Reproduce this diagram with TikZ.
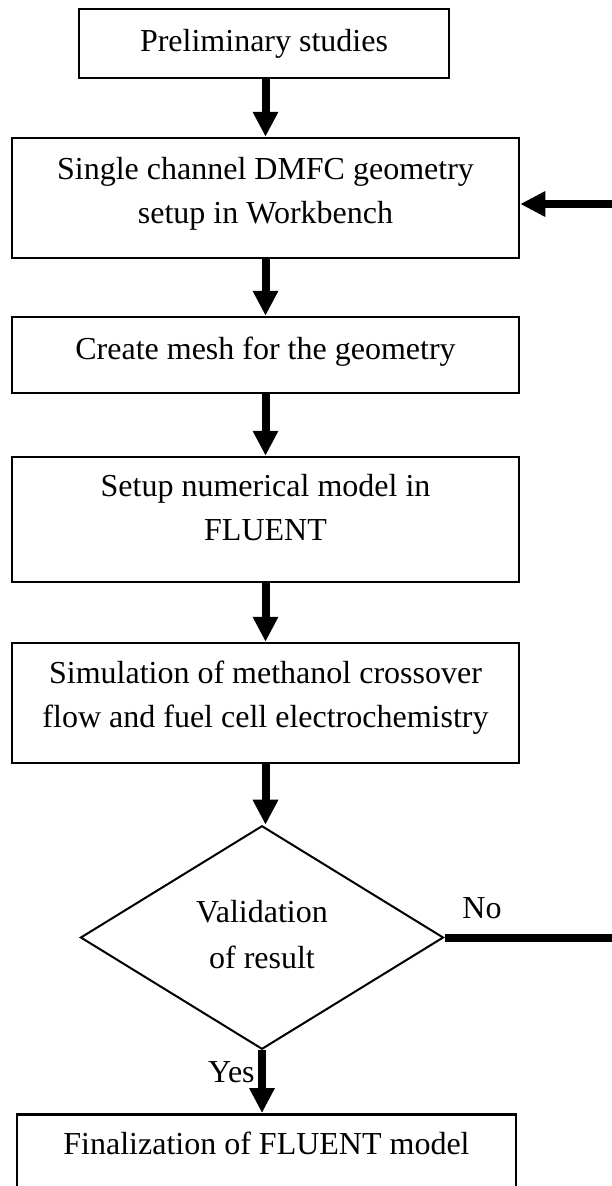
\documentclass[tikz,border=0pt]{standalone}
\usepackage{fontspec}
\setmainfont{Liberation Serif}
\usetikzlibrary{arrows.meta,shapes.geometric}
\newcommand\boxtxt[2]{\raisebox{#1}[\height][\depth]{\begin{tabular}{@{}c@{}}#2\end{tabular}}}
\begin{document}
\begin{tikzpicture}[x=1pt,y=-1pt,
  box/.style={draw,line width=2.5pt,inner sep=0pt,
    font=\fontsize{32}{44}\selectfont},
  dec/.style={draw,shape=diamond,line width=2pt,inner sep=0pt,
    font=\fontsize{32}{46}\selectfont},
  flow/.style={line width=8pt,-{Triangle[length=25pt,width=24pt]}},
  lbl/.style={font=\fontsize{32}{40}\selectfont}]
\clip (0,0) rectangle (612,1186);
\useasboundingbox (0,0) rectangle (612,1186);

\node[box,minimum width=370pt,minimum height=69pt] (b1) at (264,43.5) {Preliminary studies};
\node[box,minimum width=507pt,minimum height=120pt] (b2) at (265.5,198) {\boxtxt{5.5pt}{Single channel DMFC geometry\\setup in Workbench}};
\node[box,minimum width=507pt,minimum height=76pt] (b3) at (265.5,355) {\raisebox{3.5pt}[\height][\depth]{Create mesh for the geometry}};
\node[box,minimum width=507pt,minimum height=125pt] (b4) at (265.5,519.5) {\boxtxt{9.5pt}{Setup numerical model in\\FLUENT}};
\node[box,minimum width=507pt,minimum height=120pt] (b5) at (265.5,703) {\boxtxt{6.5pt}{Simulation of methanol crossover\\flow and fuel cell electrochemistry}};
\node[dec,minimum width=363pt,minimum height=213pt] (d) at (262,937.5) {\boxtxt{1pt}{Validation\\of result}};
\node[box,anchor=north,minimum width=499pt,text height=40pt,text depth=50pt] (b6) at (266.5,1113) {Finalization of FLUENT model};

\coordinate (r1) at (640,937.5);
\coordinate (r2) at (640,204);

\draw[flow] (b1.south -| b2.north) -- (b2.north);
\draw[flow] (b2.south) -- (b3.north);
\draw[flow] (b3.south) -- (b4.north);
\draw[flow] (b4.south) -- (b5.north);
\draw[flow] (b5.south) -- (b5.south |- d.north);
\draw[flow] (d.south) -- node[lbl,left,pos=0.35] {Yes} (d.south |- b6.north);
\draw[flow] (d.east) -- (r1) -- (r2) -- (r2 -| b2.east);
\node[lbl] (no) at (482,908) {No};
\end{tikzpicture}
\end{document}
